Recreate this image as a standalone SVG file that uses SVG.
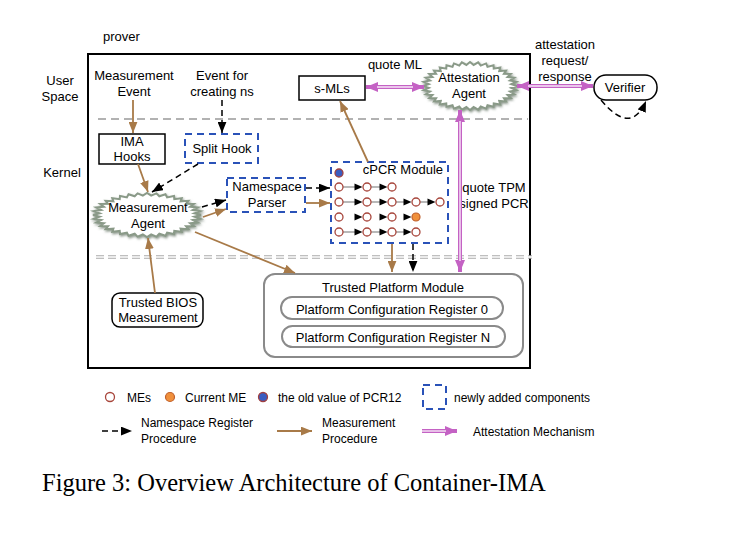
<svg xmlns="http://www.w3.org/2000/svg" xmlns:xlink="http://www.w3.org/1999/xlink" width="739" height="533" viewBox="0 0 739 533">
<style>
.t{font-family:"Liberation Sans",Arial,sans-serif;font-size:13px;fill:#000}
.lg{font-size:12px}
.m{text-anchor:middle}
.e{text-anchor:end}
.cap{font-family:"Liberation Serif","Times New Roman",serif;font-size:24.5px;fill:#000}
.box{fill:#fff;stroke:#000;stroke-width:1.5}
.nb{fill:none;stroke:#2a52b8;stroke-width:2;stroke-dasharray:7 5}
.br{stroke:#a87a48;stroke-width:1.8;fill:none;marker-end:url(#ab)}
.bk{stroke:#000;stroke-width:1.5;stroke-dasharray:6 4;fill:none;marker-end:url(#ak)}
.pk{stroke:#c462c4;stroke-width:4;fill:none}
.pw{stroke:#f8e8f8;stroke-width:1.4;fill:none}
.rr{fill:#fff;stroke:#8a8a8a;stroke-width:2}
.me{fill:#fff;stroke:#a8463c;stroke-width:1.3}
.cur{fill:#f0903c;stroke:#c0602c;stroke-width:1.2}
.old{fill:#3a5cc0;stroke:#a04040;stroke-width:1.3}
.gl{stroke:#b8b8b8;stroke-width:2}
.spk{fill:#fff;stroke:#8a9a88;stroke-width:2}
</style>
<defs>
<marker id="ab" viewBox="0 0 10 8" refX="10" refY="4" markerWidth="11" markerHeight="9" markerUnits="userSpaceOnUse" orient="auto"><path d="M0,0 L10,4 L0,8 z" fill="#a87a48"/></marker>
<marker id="ak" viewBox="0 0 10 8" refX="10" refY="4" markerWidth="11" markerHeight="9" markerUnits="userSpaceOnUse" orient="auto"><path d="M0,0 L10,4 L0,8 z" fill="#000"/></marker>
<marker id="ap" viewBox="0 0 12 10" refX="12" refY="5" markerWidth="12" markerHeight="10" markerUnits="userSpaceOnUse" orient="auto-start-reverse"><path d="M0,0 L12,5 L0,10 z" fill="#c462c4"/></marker>
<path id="tri" d="M-8,-3.5 L0,0 L-8,3.5 z" fill="#000"/>
<polygon id="burst" vector-effect="non-scaling-stroke" points="100,0 87.7,7.7 98.5,17.4 85,22.8 94,34.2 79.8,37.2 86.6,50 72.1,50.5 76.6,64.3 62.2,62.2 64.3,76.6 50.5,72.1 50,86.6 37.2,79.8 34.2,94 22.8,85 17.4,98.5 7.7,87.7 0,100 -7.7,87.7 -17.4,98.5 -22.8,85 -34.2,94 -37.2,79.8 -50,86.6 -50.5,72.1 -64.3,76.6 -62.2,62.2 -76.6,64.3 -72.1,50.5 -86.6,50 -79.8,37.2 -94,34.2 -85,22.8 -98.5,17.4 -87.7,7.7 -100,0 -87.7,-7.7 -98.5,-17.4 -85,-22.8 -94,-34.2 -79.8,-37.2 -86.6,-50 -72.1,-50.5 -76.6,-64.3 -62.2,-62.2 -64.3,-76.6 -50.5,-72.1 -50,-86.6 -37.2,-79.8 -34.2,-94 -22.8,-85 -17.4,-98.5 -7.7,-87.7 0,-100 7.7,-87.7 17.4,-98.5 22.8,-85 34.2,-94 37.2,-79.8 50,-86.6 50.5,-72.1 64.3,-76.6 62.2,-62.2 76.6,-64.3 72.1,-50.5 86.6,-50 79.8,-37.2 94,-34.2 85,-22.8 98.5,-17.4 87.7,-7.7"/>
<filter id="sh" x="-20%" y="-30%" width="140%" height="160%"><feDropShadow dx="1" dy="1.5" stdDeviation="1.2" flood-color="#5a6a5a" flood-opacity="0.7"/></filter>
</defs>

<rect width="739" height="533" fill="#fff"/>

<g id="frame">
<text class="t" x="103" y="41">prover</text>
<rect x="88" y="54" width="442" height="314" fill="none" stroke="#000" stroke-width="2"/>
<text class="t m" x="60" y="85">User</text>
<text class="t m" x="60" y="101">Space</text>
<text class="t m" x="62" y="177">Kernel</text>
<path d="M98,119 H528" stroke="#999" stroke-width="1.6" stroke-dasharray="8 5"/>
<path d="M96,257 H532" stroke="#aaa" stroke-width="3.5" stroke-dasharray="8 4"/>
<path d="M96,257 H532" stroke="#fff" stroke-width="1.3"/>
</g>

<g id="measurement-event">
<text class="t m" x="134" y="80">Measurement</text>
<text class="t m" x="134" y="96">Event</text>
</g>
<g id="event-ns">
<text class="t m" x="222" y="80">Event for</text>
<text class="t m" x="222" y="96">creating ns</text>
</g>
<g id="s-mls">
<rect class="box" x="299" y="76" width="66" height="24"/>
<text class="t m" x="332" y="93">s-MLs</text>
</g>
<g id="attestation-agent">
<g filter="url(#sh)"><use href="#burst" class="spk" transform="translate(470,86) scale(0.47,0.24)"/></g>
<text class="t m" x="469" y="82">Attestation</text>
<text class="t m" x="469" y="98">Agent</text>
</g>
<g id="verifier">
<rect class="box" x="594" y="75" width="63" height="25" rx="12"/>
<text class="t m" x="625" y="92">Verifier</text>
</g>
<g id="ima-hooks">
<rect class="box" x="99" y="134" width="66" height="30"/>
<text class="t m" x="132" y="146">IMA</text>
<text class="t m" x="132" y="161">Hooks</text>
</g>
<g id="split-hook">
<rect class="nb" x="185" y="134" width="73" height="29" fill="#fff"/>
<text class="t m" x="222" y="153">Split Hook</text>
</g>
<g id="measurement-agent">
<g filter="url(#sh)"><use href="#burst" class="spk" transform="translate(147,215) scale(0.54,0.22)"/></g>
<text class="t m" x="148" y="212">Measurement</text>
<text class="t m" x="148" y="228">Agent</text>
</g>
<g id="namespace-parser">
<rect class="nb" x="227" y="178" width="78" height="34"/>
<text class="t m" x="267" y="191">Namespace</text>
<text class="t m" x="267" y="207">Parser</text>
</g>
<g id="cpcr-module">
<rect class="nb" x="331" y="162" width="117" height="81"/>
<text class="t e" x="443" y="174">cPCR Module</text>
<circle class="old" cx="339" cy="173" r="4"/>
<g id="row1">
<path class="gl" d="M343,187 H355 M371,187 H380"/>
<use href="#tri" x="362.5" y="187"/><use href="#tri" x="387.5" y="187"/>
<circle class="me" cx="339" cy="187" r="4"/><circle class="me" cx="367" cy="187" r="4"/><circle class="me" cx="392" cy="187" r="4"/>
</g>
<g id="row2">
<path class="gl" d="M343,202 H355 M371,202 H380 M396,202 H404 M420,202 H428"/>
<use href="#tri" x="362.5" y="202"/><use href="#tri" x="387.5" y="202"/><use href="#tri" x="411.5" y="202"/><use href="#tri" x="435.5" y="202"/>
<circle class="me" cx="339" cy="202" r="4"/><circle class="me" cx="367" cy="202" r="4"/><circle class="me" cx="392" cy="202" r="4"/><circle class="me" cx="416" cy="202" r="4"/><circle class="me" cx="440" cy="202" r="4"/>
</g>
<g id="row3">
<use href="#tri" x="362.5" y="217"/><use href="#tri" x="387.5" y="217"/><use href="#tri" x="411.5" y="217"/>
<circle class="me" cx="339" cy="217" r="4"/><circle class="me" cx="367" cy="217" r="4"/><circle class="me" cx="392" cy="217" r="4"/><circle class="cur" cx="416" cy="217" r="4"/>
</g>
<g id="row4">
<path class="gl" d="M343,232 H355 M371,232 H380 M396,232 H404"/>
<use href="#tri" x="362.5" y="232"/><use href="#tri" x="387.5" y="232"/><use href="#tri" x="411.5" y="232"/>
<circle class="me" cx="339" cy="232" r="4"/><circle class="me" cx="367" cy="232" r="4"/><circle class="me" cx="392" cy="232" r="4"/><circle class="me" cx="416" cy="232" r="4"/>
</g>
</g>
<g id="quote-tpm">
<text class="t m" x="494" y="192">quote TPM</text>
<text class="t m" x="494" y="208">signed PCR</text>
</g>
<g id="tpm">
<rect class="rr" x="264" y="274" width="259" height="83" rx="11"/>
<text class="t m" x="393" y="292">Trusted Platform Module</text>
<rect class="rr" x="281" y="297" width="222" height="22" rx="11"/>
<text class="t m" x="392" y="314">Platform Configuration Register 0</text>
<rect class="rr" x="282" y="326" width="223" height="21" rx="10.5"/>
<text class="t m" x="393" y="342">Platform Configuration Register N</text>
</g>
<g id="bios">
<rect class="box" x="112" y="293" width="91" height="34" rx="8"/>
<text class="t m" x="158" y="307">Trusted BIOS</text>
<text class="t m" x="158" y="322">Measurement</text>
</g>
<g id="attestation-label">
<text class="t m" x="565" y="49">attestation</text>
<text class="t m" x="565" y="65">request/</text>
<text class="t m" x="565" y="81">response</text>
</g>
<text class="t m" x="395" y="69">quote ML</text>

<g id="connectors">
<path class="br" d="M133,100 V133"/>
<path class="bk" d="M222,100 V133"/>
<path class="br" d="M138,164 L148,192"/>
<path class="bk" d="M198,164 L152,192"/>
<path class="bk" d="M202,207 L226,200"/>
<path class="br" d="M203,217 L226,209"/>
<path class="bk" d="M306,188 H330"/>
<path class="br" d="M306,203 H330"/>
<path class="br" d="M368,162 L340,101"/>
<path class="br" d="M392,244 V272"/>
<path class="bk" d="M413,244 V272"/>
<path class="br" d="M195,232 L295,273"/>
<path class="br" d="M155,293 L148,238"/>
<path class="bk" d="M601,100 Q631,136 646,101"/>
<path class="pk" d="M366,87 H424" marker-start="url(#ap)" marker-end="url(#ap)"/>
<path class="pw" d="M377,87 H413"/>
<path class="pk" d="M517,86 H593" marker-start="url(#ap)" marker-end="url(#ap)"/>
<path class="pw" d="M528,86 H582"/>
<path class="pk" d="M460,110 V272" marker-start="url(#ap)" marker-end="url(#ap)"/>
<path class="pw" d="M460,121 V261"/>
</g>

<g id="legend">
<circle class="me" cx="110" cy="397" r="4.5"/>
<text class="t lg" x="127" y="402">MEs</text>
<circle class="cur" cx="170" cy="397" r="4.5"/>
<text class="t lg" x="185" y="402">Current ME</text>
<circle class="old" cx="263" cy="397" r="4.5"/>
<text class="t lg" x="278" y="402">the old value of PCR12</text>
<rect class="nb" x="423" y="385" width="23" height="24"/>
<text class="t lg" x="454" y="402">newly added components</text>
<path class="bk" d="M102,431 H132"/>
<text class="t lg" x="141" y="427">Namespace Register</text>
<text class="t lg" x="141" y="443">Procedure</text>
<path class="br" d="M277,431 H312"/>
<text class="t lg" x="322" y="427">Measurement</text>
<text class="t lg" x="322" y="443">Procedure</text>
<path class="pk" d="M422,431 H457" marker-end="url(#ap)"/>
<path class="pw" d="M422,431 H446"/>
<text class="t lg" x="473" y="436">Attestation Mechanism</text>
</g>

<text class="cap" x="42" y="491">Figure 3: Overview Architecture of Container-IMA</text>
</svg>
